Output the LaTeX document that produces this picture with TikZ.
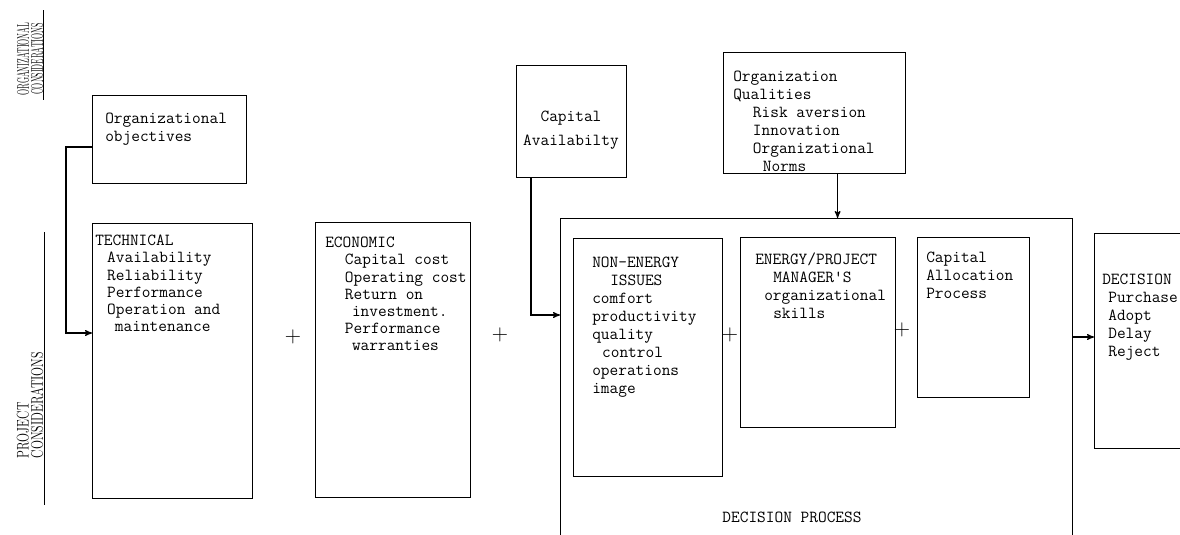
\documentclass[tikz,border=0pt]{standalone}
\usepackage{graphicx}
\usetikzlibrary{arrows,calc,positioning}
\tikzset{
    box/.style={
           rectangle,
           draw=black, line width=0.8pt,
           anchor=north west,
           inner sep=0,
           },
    txt/.style={
           anchor=north west,
           align=left,
           inner sep=0,
           font=\ttfamily\fontsize{12}{12.8}\selectfont,
           },
    pil/.style={
           ->,
           line width=0.8pt,
           },
    plus/.style={
           inner sep=0,
           font=\fontsize{16}{16}\selectfont,
           },
    side/.style={
           rotate=90,
           inner sep=0,
           font=\fontsize{12}{10}\selectfont,
           },
}
\newcommand{\narrow}[2][.47]{\scalebox{#1}[1]{#2}}

\begin{document}
\begin{tikzpicture}[x=0.025cm,y=-0.025cm,>=stealth']
\path[use as bounding box, clip] (0,0) rectangle (1180,534);

% side headings
\node (orglab) at (30,59) [side, align=center] {\narrow{ORGANIZATIONAL}\\\narrow{CONSIDERATIONS}};
\draw[line width=0.6pt] (43,10) -- (43,100);
\node (projlab) at (30,405) [side, align=left] {\narrow[.7]{PROJECT}\\\narrow[.7]{CONSIDERATIONS}};
\draw[line width=0.6pt] (44,232) -- (44,505);

% organizational side
\node[box, minimum width=3.85cm, minimum height=2.2cm] (orgobj) at (92,95) {};
\node[txt] (orgobjtxt) at (105,113) {Organizational\\objectives};
\node[box, minimum width=2.75cm, minimum height=2.8cm] (capav) at (516,65) {};
\node[txt, anchor=center, align=center, font=\ttfamily\fontsize{12}{17}\selectfont] (capavtxt) at (571,130) {Capital\\Availabilty};
\node[box, minimum width=4.55cm, minimum height=3.025cm] (orgqual) at (723,52) {};
\node[txt] (orgqualtxt) at (733,71) {Organization\\Qualities\\
  \hspace*{14pt}Risk aversion\\\hspace*{14pt}Innovation\\
  \hspace*{14pt}Organizational\\\hspace*{21pt}Norms};

% project side
\node[box, minimum width=4cm, minimum height=6.875cm] (tech) at (92,223) {};
\node[txt, font=\ttfamily\fontsize{12}{12.2}\selectfont] (techtxt) at (95,235) {TECHNICAL\\
  \hspace*{8.5pt}Availability\\\hspace*{8.5pt}Reliability\\
  \hspace*{8.5pt}Performance\\\hspace*{8.5pt}Operation and\\
  \hspace*{14pt}maintenance};
\node[box, minimum width=3.875cm, minimum height=6.875cm] (econ) at (315,222) {};
\node[txt, font=\ttfamily\fontsize{12}{12.2}\selectfont] (econtxt) at (325,237) {ECONOMIC\\
  \hspace*{14pt}Capital cost\\\hspace*{14pt}Operating cost\\
  \hspace*{14pt}Return on\\\hspace*{19pt}investment.\\
  \hspace*{14pt}Performance\\\hspace*{19pt}warranties};

% decision process
\node[box, minimum width=12.8cm, minimum height=8.175cm] (decproc) at (560,218) {};
\node[txt, anchor=center] (decproctxt) at (792,517) {DECISION PROCESS};
\node[box, minimum width=3.725cm, minimum height=5.95cm] (noneng) at (573,238) {};
\node[txt] (nonengtxt) at (592,257) {NON-ENERGY\\\hspace*{12.8pt}ISSUES\\
  comfort\\productivity\\quality\\\hspace*{7pt}control\\operations\\image};
\node[box, minimum width=3.875cm, minimum height=4.75cm] (mgr) at (740,237) {};
\node[txt] (mgrtxt) at (755,253) {ENERGY/PROJECT\\\hspace*{12.8pt}MANAGER'S\\
  \hspace*{6.4pt}organizational\\\hspace*{12.8pt}skills};
\node[box, minimum width=2.8cm, minimum height=4cm] (capalloc) at (917,237) {};
\node[txt] (capalloctxt) at (926,252) {Capital\\Allocation\\Process};

% outcome
\node[box, minimum width=2.65cm, minimum height=5.375cm] (decision) at (1094,233) {};
\node[txt] (decisiontxt) at (1102,274) {DECISION\\\hspace*{4.3pt}Purchase\\
  \hspace*{4.3pt}Adopt\\\hspace*{4.3pt}Delay\\\hspace*{4.3pt}Reject};

% pluses
\node[plus] (p1) at (293,337) {+};
\node[plus] (p2) at (500,335) {+};
\node[plus] (p3) at (730,335) {+};
\node[plus] (p4) at (902,330) {+};

% arrows
\draw[pil] (orgobj.west |- 0,147) -- ++(-26,0) |- (tech.west |- 0,333);
\draw[pil] ($(capav.south west)+(15,0)$) |- (decproc.west |- 0,315);
\draw[pil] ($(orgqual.south)+(23,0)$) coordinate (q) -- (q |- decproc.north);
\draw[pil] (decproc.east |- 0,337) -- (decision.west |- 0,337);
\end{tikzpicture}
\end{document}
